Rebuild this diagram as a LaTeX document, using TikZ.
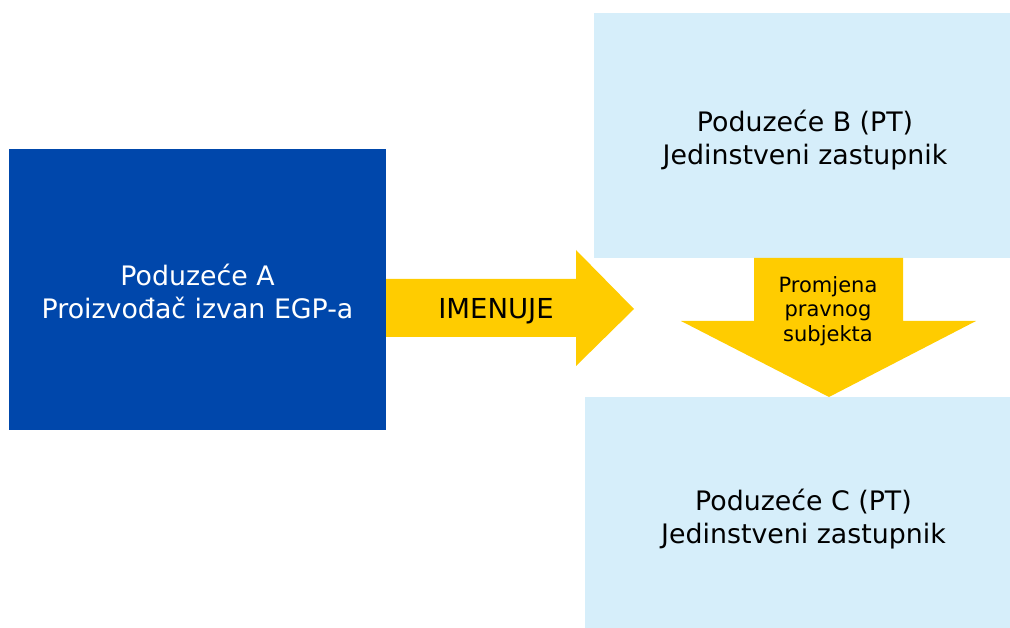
\documentclass[tikz,border=0pt]{standalone}
\usepackage{fontspec}
\setmainfont{DejaVu Sans}
\usepackage{tikz}
\usetikzlibrary{positioning}
\definecolor{eublue}{RGB}{0,71,171}
\definecolor{paleblue}{RGB}{214,238,250}
\definecolor{arrowyellow}{RGB}{255,204,0}

\begin{document}
\begin{tikzpicture}[x=1pt,y=-1pt,
	boxtext/.style={align=center, inner sep=0pt, font=\fontsize{26.8}{33}\selectfont},
	arrowtext/.style={align=center, inner sep=0pt, font=\fontsize{21}{24.5}\selectfont}]
	\useasboundingbox (0,0) rectangle (1010,628);
	
	\fill[eublue] (9,149) rectangle (386,430);
	\fill[paleblue] (594,13) rectangle (1010,258);
	\fill[paleblue] (585,397) rectangle (1010,628);
	
	% block arrows
	\fill[arrowyellow] (386,279) -- (576,279) -- (576,250) -- (634,309) -- (576,366) -- (576,337) -- (386,337) -- cycle;
	\fill[arrowyellow] (754,258) -- (903,258) -- (903,321) -- (976,321) -- (829,397) -- (681,321) -- (754,321) -- cycle;
	
	\node[boxtext, white] (firmA) at (197.5,291) {Poduzeće A\\Proizvođač izvan EGP-a};
	\node[boxtext] (firmB) at (805,140) {Poduzeće B (PT)\\Jedinstveni zastupnik};
	\node[boxtext] (firmC) at (803.5,519) {Poduzeće C (PT)\\Jedinstveni zastupnik};
	
	\node[boxtext, font=\fontsize{27.5}{33}\selectfont] (appoints) at (496,311) {IMENUJE};
	\node[arrowtext] (change) at (828,311) {Promjena\\pravnog\\subjekta};
\end{tikzpicture}
\end{document}
